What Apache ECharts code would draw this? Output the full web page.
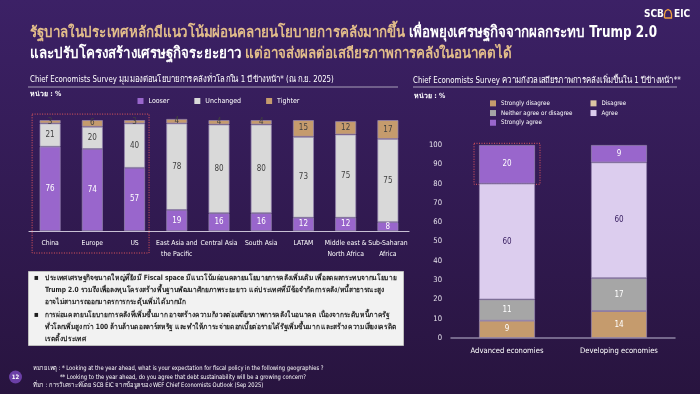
<!DOCTYPE html>
<html>
<head>
<meta charset="utf-8">
<script src="https://cdn.jsdelivr.net/npm/echarts@6/dist/echarts.min.js"></script>
<style>
html,body{margin:0;padding:0;width:700px;height:394px;overflow:hidden;background:#2e1849;}
#c{width:700px;height:394px;}
</style>
</head>
<body>
<div id="c"></div>
<script>
// ---------- data ----------
const categoriesL = ['China','Europe','US','East Asia and\nthe Pacific','Central Asia','South Asia','LATAM','Middle east &\nNorth Africa','Sub-Saharan\nAfrica'];
const looser    = [76,74,57,19,16,16,12,12,8];
const unchanged = [21,20,40,78,80,80,73,75,75];
const tighter   = [3,6,3,4,4,4,15,12,17];

const categoriesR = ['Advanced economies','Developing economies'];
const stronglyDisagree = [9,14];
const disagree         = [0,0];
const neither          = [11,17];
const agree            = [60,60];
const stronglyAgree    = [20,9];

const titleL1a = 'รัฐบาลในประเทศหลักมีแนวโน้มผ่อนคลายนโยบายการคลังมากขึ้น ';
const titleL1b = 'เพื่อพยุงเศรษฐกิจจากผลกระทบ Trump 2.0';
const titleL2a = 'และปรับโครงสร้างเศรษฐกิจระยะยาว ';
const titleL2b = 'แต่อาจส่งผลต่อเสถียรภาพการคลังในอนาคตได้';
const subL = 'Chief Economists Survey มุมมองต่อนโยบายการคลังทั่วโลกใน 1 ปีข้างหน้า* (ณ ก.ย. 2025)';
const subR = 'Chief Economists Survey ความกังวลเสถียรภาพการคลังเพิ่มขึ้นใน 1 ปีข้างหน้า**';
const unit = 'หน่วย : %';
const bullets = [
  ['ประเทศเศรษฐกิจขนาดใหญ่ที่ยังมี Fiscal space มีแนวโน้มผ่อนคลายนโยบายการคลังเพิ่มเติม เพื่อลดผลกระทบจากนโยบาย',
   'Trump 2.0 รวมถึงเพื่อลงทุนโครงสร้างพื้นฐานพัฒนาศักยภาพระยะยาว แต่ประเทศที่มีข้อจำกัดการคลัง/หนี้สาธารณะสูง',
   'อาจไม่สามารถออกมาตรการกระตุ้นเพิ่มได้มากนัก'],
  ['การผ่อนคลายนโยบายการคลังที่เพิ่มขึ้นมาก อาจสร้างความกังวลต่อเสถียรภาพการคลังในอนาคต เนื่องจากระดับหนี้ภาครัฐ',
   'ทั่วโลกเพิ่มสูงกว่า 100 ล้านล้านดอลลาร์สหรัฐ และทำให้ภาระจ่ายดอกเบี้ยต่อรายได้รัฐเพิ่มขึ้นมาก และสร้างความเสี่ยงเครดิต',
   'เรตติ้งประเทศ']
];
const notes = [
  'หมายเหตุ : * Looking at the year ahead, what is your expectation for fiscal policy in the following geographies ?',
  '** Looking to the year ahead, do you agree that debt sustainability will be a growing concern?',
  'ที่มา : การวิเคราะห์โดย SCB EIC จากข้อมูลของ WEF Chief Economists Outlook (Sep 2025)'
];

// ---------- style ----------
const FONT = "'Liberation Sans Narrow','DejaVu Sans Condensed','Noto Sans',sans-serif";
const PURPLE = '#9966cc', LGRAY = '#d9d9d9', TAN = '#c59b6d', LTAN = '#dcc5a3', MGRAY = '#a6a6a6', LAV = '#dccdee';
const GOLD = '#e2bd8a';

const chart = echarts.init(document.getElementById('c'), null, {renderer:'canvas'});

function lbl(color){
  return {show:true, position:'inside', fontSize:8, fontFamily:FONT, color:color,
          formatter:p => p.value ? p.value : ''};
}
const bordL = {borderColor:'rgba(150,135,175,0.9)', borderWidth:0.8};

const series = [
  {name:'Looser', type:'bar', stack:'L', xAxisIndex:0, yAxisIndex:0, data:looser, barWidth:21,
   itemStyle:Object.assign({color:PURPLE}, bordL), label:lbl('#ffffff')},
  {name:'Unchanged', type:'bar', stack:'L', xAxisIndex:0, yAxisIndex:0, data:unchanged, barWidth:21,
   itemStyle:Object.assign({color:LGRAY}, bordL), label:lbl('#404040')},
  {name:'Tighter', type:'bar', stack:'L', xAxisIndex:0, yAxisIndex:0, data:tighter, barWidth:21,
   itemStyle:Object.assign({color:TAN}, bordL), label:lbl('#404040')},
  {name:'Strongly disagree', type:'bar', stack:'R', xAxisIndex:1, yAxisIndex:1, data:stronglyDisagree, barWidth:56,
   itemStyle:Object.assign({color:TAN}, bordL), label:lbl('#ffffff')},
  {name:'Disagree', type:'bar', stack:'R', xAxisIndex:1, yAxisIndex:1, data:disagree, barWidth:56,
   itemStyle:Object.assign({color:LTAN}, bordL), label:lbl('#ffffff')},
  {name:'Neither agree or disagree', type:'bar', stack:'R', xAxisIndex:1, yAxisIndex:1, data:neither, barWidth:56,
   itemStyle:Object.assign({color:MGRAY}, bordL), label:lbl('#ffffff')},
  {name:'Agree', type:'bar', stack:'R', xAxisIndex:1, yAxisIndex:1, data:agree, barWidth:56,
   itemStyle:Object.assign({color:LAV}, bordL), label:lbl('#3b2163')},
  {name:'Strongly agree', type:'bar', stack:'R', xAxisIndex:1, yAxisIndex:1, data:stronglyAgree, barWidth:56,
   itemStyle:Object.assign({color:PURPLE}, bordL), label:lbl('#ffffff')}
];

const legendText = {color:'#ffffff', fontSize:7, fontFamily:FONT};
const legendTextR = {color:'#ffffff', fontSize:6.2, fontFamily:FONT, lineHeight:9.7};
const option = {
  animation:false,
  backgroundColor:new echarts.graphic.LinearGradient(0,0,0,1,
    [{offset:0,color:'#3c2166'},{offset:1,color:'#28143f'}]),
  grid:[
    {left:29, width:380, top:109, height:122},
    {left:451, width:224, top:145, height:193}
  ],
  xAxis:[
    {type:'category', gridIndex:0, data:categoriesL,
     axisLine:{lineStyle:{color:'#c8c0d4', width:1.2}}, axisTick:{show:false},
     axisLabel:{color:'#ffffff', fontSize:6.8, fontFamily:FONT, margin:6, lineHeight:11.6, interval:0}},
    {type:'category', gridIndex:1, data:categoriesR,
     axisLine:{lineStyle:{color:'#8e84a4', width:1.5}}, axisTick:{show:false},
     axisLabel:{color:'#ffffff', fontSize:7.6, fontFamily:FONT, margin:9, interval:0}}
  ],
  yAxis:[
    {type:'value', gridIndex:0, min:0, max:110, show:false, splitLine:{show:false}},
    {type:'value', gridIndex:1, min:0, max:100, interval:10,
     axisLine:{show:false}, axisTick:{show:false}, splitLine:{show:false},
     axisLabel:{color:'#e6e2ec', fontSize:7.6, fontFamily:FONT, margin:9}}
  ],
  legend:[
    {data:['Looser','Unchanged','Tighter'], left:137.5, top:97.5, padding:0, itemWidth:6, itemHeight:6, icon:'rect',
     itemGap:25, itemStyle:{borderWidth:0}, textStyle:legendText, selectedMode:false},
    {data:['Strongly disagree','Neither agree or disagree','Strongly agree'], orient:'vertical', left:490, top:98.5,
     padding:0, itemWidth:6, itemHeight:6, icon:'rect', itemGap:0, itemStyle:{borderWidth:0},
     textStyle:legendTextR, selectedMode:false},
    {data:['Disagree','Agree'], orient:'vertical', left:590.5, top:98.5,
     padding:0, itemWidth:6, itemHeight:6, icon:'rect', itemGap:0, itemStyle:{borderWidth:0},
     textStyle:legendTextR, selectedMode:false}
  ],
  series:series
};
chart.setOption(option);

// ---------- decorations (text, boxes) ----------
const g = [];
function txt(x,y,text,opt,sx){
  g.push({type:'text', x:x, y:y, silent:true, scaleX:sx||1,
    style:Object.assign({text:text, fill:'#ffffff', font:'8px '+FONT, verticalAlign:'middle'}, opt||{})});
}
// logo
txt(644,14,'SCB',{font:'bold 10px '+FONT});
g.push({type:'polyline', silent:true,
        shape:{points:[[664.5,18],[664.5,14],[665.5,11],[668,9.5],[670.5,11],[671.5,14],[671.5,18],[664.5,18]]},
        style:{fill:'none', stroke:'#f0a040', lineWidth:1.3}});
txt(674,14,'EIC',{font:'bold 10px '+FONT});
// title
const tFont = 'bold 15px '+FONT;
g.push({type:'text', x:30, y:33, silent:true, scaleX:0.89, style:{
  text:'{a|'+titleL1a+'}{b|'+titleL1b+'}', verticalAlign:'middle',
  rich:{a:{fill:GOLD, font:tFont}, b:{fill:'#ffffff', font:tFont}}}});
g.push({type:'text', x:30, y:54, silent:true, scaleX:0.89, style:{
  text:'{b|'+titleL2a+'}{a|'+titleL2b+'}', verticalAlign:'middle',
  rich:{a:{fill:GOLD, font:tFont}, b:{fill:'#ffffff', font:tFont}}}});
// subtitles
txt(30,79.5,subL,{font:'9px '+FONT},0.865);
g.push({type:'line', silent:true, shape:{x1:28,y1:87,x2:398,y2:87}, style:{stroke:'#a9a0ba', lineWidth:1}});
txt(30,94,unit,{font:'bold 7px '+FONT});
txt(413,80.5,subR,{font:'9px '+FONT},0.865);
g.push({type:'line', silent:true, shape:{x1:413,y1:87,x2:677,y2:87}, style:{stroke:'#a9a0ba', lineWidth:1}});
txt(414,96,unit,{font:'bold 7px '+FONT});
// bullet box
g.push({type:'rect', silent:true, shape:{x:28.5,y:271.5,width:375,height:74},
        style:{fill:'#f2f2f2', stroke:'#bdbdbd', lineWidth:1}});
let ly = 278;
bullets.forEach(b => {
  txt(34,ly,'▪',{fill:'#1f1f1f', font:'8px '+FONT});
  b.forEach(line => { txt(45,ly,line,{fill:'#1f1f1f', font:'bold 7.2px '+FONT},0.92); ly += 12.3; });
});
// footnotes
txt(33,368.3,notes[0],{font:'6.3px '+FONT},0.92);
txt(60,377,notes[1],{font:'6.3px '+FONT},0.92);
txt(33,385.5,notes[2],{font:'6.3px '+FONT},0.92);
// page number
g.push({type:'circle', silent:true, shape:{cx:15.5,cy:377,r:6.5}, style:{fill:'#6b3fa6'}});
txt(15.5,377,'12',{font:'bold 6px '+FONT, align:'center'});

// highlight boxes positioned through the axes
const pC = chart.convertToPixel({xAxisIndex:0, yAxisIndex:0}, ['China',100]);
const pU = chart.convertToPixel({xAxisIndex:0, yAxisIndex:0}, ['US',0]);
g.push({type:'rect', silent:true, shape:{x:pC[0]-18, y:pC[1]-6, width:(pU[0]+14.5)-(pC[0]-18), height:(pU[1]+22)-(pC[1]-6)},
        style:{fill:'none', stroke:'#e4585c', lineWidth:1, lineDash:[1,1.5]}});
const pA1 = chart.convertToPixel({xAxisIndex:1, yAxisIndex:1}, ['Advanced economies',100]);
const pA0 = chart.convertToPixel({xAxisIndex:1, yAxisIndex:1}, ['Advanced economies',100-stronglyAgree[0]]);
g.push({type:'rect', silent:true, shape:{x:pA1[0]-33, y:pA1[1]-1.7, width:66, height:(pA0[1]+0.7)-(pA1[1]-1.7)},
        style:{fill:'none', stroke:'#e4585c', lineWidth:1, lineDash:[1,1.5]}});

chart.setOption({graphic:g});
</script>
</body>
</html>
